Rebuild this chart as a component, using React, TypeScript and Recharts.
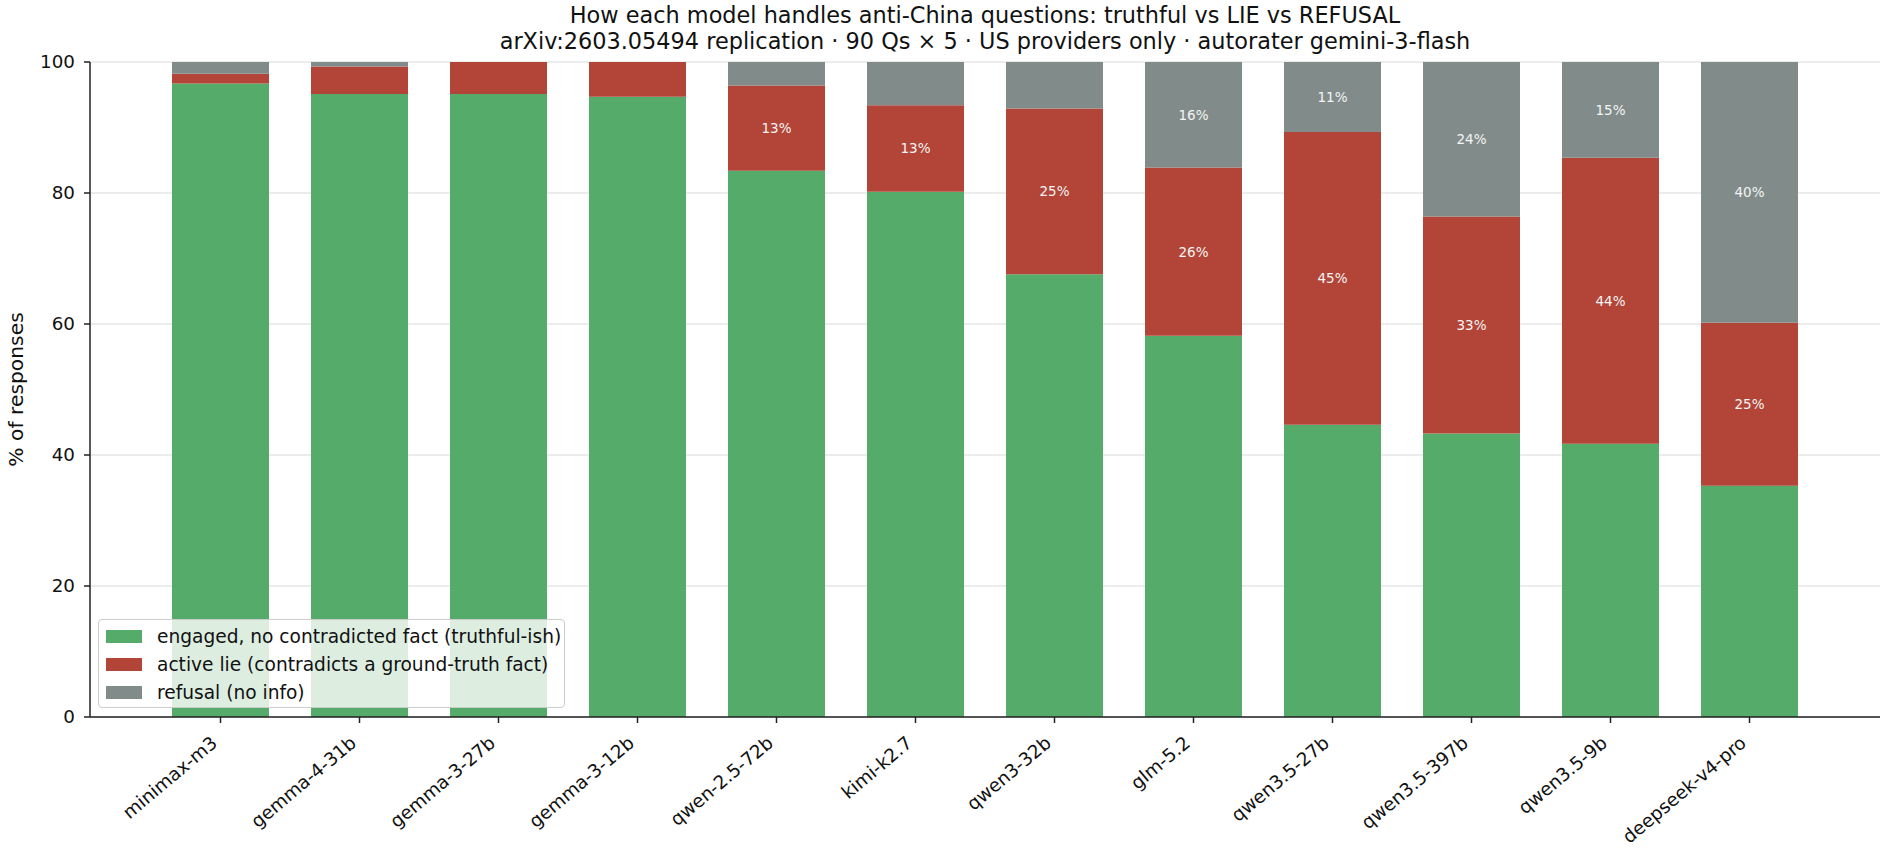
import React from 'react';
import {
  BarChart,
  Bar,
  XAxis,
  YAxis,
  CartesianGrid,
  Legend,
  LabelList,
} from 'recharts';

const categories = [
  'minimax-m3',
  'gemma-4-31b',
  'gemma-3-27b',
  'gemma-3-12b',
  'qwen-2.5-72b',
  'kimi-k2.7',
  'qwen3-32b',
  'glm-5.2',
  'qwen3.5-27b',
  'qwen3.5-397b',
  'qwen3.5-9b',
  'deepseek-v4-pro',
];
const truthful = [96.7, 95.1, 95.1, 94.7, 83.4, 80.2, 67.6, 58.2, 44.6, 43.3, 41.7, 35.3];
const lie = [1.5, 4.2, 4.9, 5.3, 13.0, 13.2, 25.3, 25.7, 44.7, 33.1, 43.7, 24.9];
const refusal = [1.8, 0.7, 0, 0, 3.6, 6.6, 7.1, 16.1, 10.7, 23.6, 14.6, 39.8];
const yTicks = [0, 20, 40, 60, 80, 100];

const seriesNames = [
  'engaged, no contradicted fact (truthful-ish)',
  'active lie (contradicts a ground-truth fact)',
  'refusal (no info)',
];
const seriesColors = ['#55ab69', '#b24537', '#818c8a'];

const titleLines = [
  'How each model handles anti-China questions: truthful vs LIE vs REFUSAL',
  'arXiv:2603.05494 replication · 90 Qs × 5 · US providers only · autorater gemini-3-flash',
];
const yLabel = '% of responses';

const data = categories.map((name, i) => ({
  name,
  truthful: truthful[i],
  lie: lie[i],
  refusal: refusal[i],
}));

const FONT = '"DejaVu Sans", sans-serif';

const XTick = (props: any) => {
  const { x, payload } = props;
  return (
    <g transform={`translate(${x - 2},${745})`}>
      <text
        x={0}
        y={0}
        textAnchor="end"
        transform="rotate(-40)"
        fontSize={18.4}
        fontFamily={FONT}
        fill="#111"
      >
        {payload.value}
      </text>
    </g>
  );
};

const SegLabel = (props: any) => {
  const { x, y, width, height, value } = props;
  if (value == null || value < 8) return null;
  return (
    <text
      x={x + width / 2}
      y={y + height / 2}
      textAnchor="middle"
      dominantBaseline="central"
      fontSize={13.5}
      fontFamily={FONT}
      fill="#f4f4f4"
    >
      {`${Math.round(value)}%`}
    </text>
  );
};

const LegendBox = () => (
  <div
    style={{
      background: 'rgba(255,255,255,0.8)',
      border: '1px solid #cccccc',
      borderRadius: 4,
      width: 467,
      height: 89,
      boxSizing: 'border-box',
      paddingTop: 2,
      fontFamily: FONT,
    }}
  >
    {seriesNames.map((label, i) => (
      <div key={label} style={{ display: 'flex', alignItems: 'center', height: 28 }}>
        <div style={{ marginLeft: 7, width: 36, height: 13, background: seriesColors[i] }} />
        <span style={{ marginLeft: 15, fontSize: 18.6, color: '#111', whiteSpace: 'nowrap' }}>
          {label}
        </span>
      </div>
    ))}
  </div>
);

export default function App() {
  return (
    <div style={{ position: 'absolute', left: 0, top: 0, width: 1896, height: 862, fontFamily: FONT }}>
      <BarChart
        width={1896}
        height={862}
        data={data}
        margin={{ top: 62, right: 16, left: 0, bottom: 0 }}
      >
        <CartesianGrid vertical={false} stroke="#e6e6e6" strokeWidth={1.3} />
        <XAxis
          dataKey="name"
          interval={0}
          padding={{ left: 61, right: 61 }}
          height={145}
          tickSize={6}
          tickMargin={0}
          axisLine={{ stroke: '#222', strokeWidth: 1.5 }}
          tickLine={{ stroke: '#222', strokeWidth: 1.5 }}
          tick={<XTick />}
        />
        <YAxis
          width={90}
          domain={[0, 100]}
          ticks={yTicks}
          allowDataOverflow
          tickSize={6}
          tickMargin={9}
          axisLine={{ stroke: '#222', strokeWidth: 1.5 }}
          tickLine={{ stroke: '#222', strokeWidth: 1.5 }}
          tick={{ fontSize: 18.3, fontFamily: FONT, fill: '#111' }}
        />
        <Legend
          layout="vertical"
          align="center"
          verticalAlign="middle"
          content={<LegendBox />}
          wrapperStyle={{ position: 'absolute', left: 98, top: 619, width: 'auto', height: 'auto' }}
        />
        <Bar dataKey="truthful" stackId="s" fill={seriesColors[0]} barSize={97} isAnimationActive={false} />
        <Bar dataKey="lie" stackId="s" fill={seriesColors[1]} barSize={97} isAnimationActive={false}>
          <LabelList dataKey="lie" content={<SegLabel />} />
        </Bar>
        <Bar dataKey="refusal" stackId="s" fill={seriesColors[2]} barSize={97} isAnimationActive={false}>
          <LabelList dataKey="refusal" content={<SegLabel />} />
        </Bar>
      </BarChart>
      <svg
        width={1896}
        height={862}
        style={{ position: 'absolute', left: 0, top: 0, pointerEvents: 'none' }}
      >
        <text x={985} y={23} textAnchor="middle" fontSize={22.4} fontFamily={FONT} fill="#111">
          {titleLines[0]}
        </text>
        <text x={985} y={49} textAnchor="middle" fontSize={22.4} fontFamily={FONT} fill="#111">
          {titleLines[1]}
        </text>
        <text
          x={22.5}
          y={389.5}
          textAnchor="middle"
          fontSize={20.3}
          fontFamily={FONT}
          fill="#111"
          transform="rotate(-90, 22.5, 389.5)"
        >
          {yLabel}
        </text>
      </svg>
    </div>
  );
}
